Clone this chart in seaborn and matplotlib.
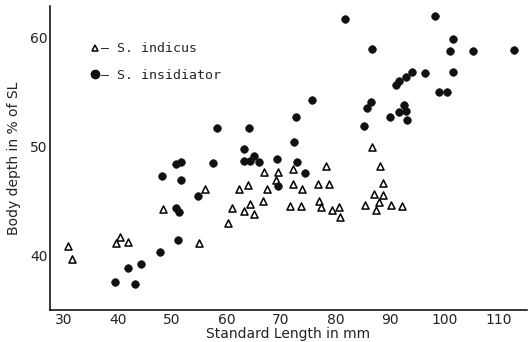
import matplotlib
matplotlib.use("Agg")
import matplotlib.pyplot as plt
import seaborn as sns
import pandas as pd
from matplotlib.lines import Line2D
from matplotlib.ticker import MultipleLocator

# S. indicus (open triangles)
indicus_sl = [30.9, 31.7, 39.7, 40.5, 41.9, 48.3, 55.0, 56.1, 60.3, 61.0, 62.3,
              63.9, 63.2, 64.3, 65.0, 66.7, 66.9, 69.4, 67.4, 69.1, 72.2, 72.2,
              73.9, 71.7, 73.7, 76.8, 78.8, 78.3, 77.0, 77.3, 79.4, 80.6, 80.8,
              86.7, 88.2, 88.7, 87.1, 88.7, 88.0, 85.4, 87.4, 90.2, 92.2]
indicus_bd = [40.9, 39.7, 41.2, 41.7, 41.3, 44.3, 41.2, 46.1, 43.0, 44.4, 46.1,
              46.5, 44.1, 44.8, 43.8, 45.0, 47.7, 47.7, 46.1, 47.0, 48.0, 46.6,
              46.1, 44.6, 44.6, 46.6, 46.6, 48.2, 45.0, 44.5, 44.2, 44.5, 43.6,
              50.0, 48.2, 46.7, 45.7, 45.6, 44.9, 44.7, 44.2, 44.7, 44.6]

# S. insidiator (filled circles)
insidiator_sl = [39.5, 41.9, 43.2, 44.3, 47.8, 48.2, 51.1, 50.7, 51.3, 51.7, 54.8,
                 50.7, 51.7, 57.5, 58.3, 64.1, 63.2, 63.2, 64.3, 65.0, 66.0, 69.3,
                 69.4, 72.8, 72.4, 72.9, 74.4, 75.7, 81.7, 86.7, 85.2, 85.8, 86.5,
                 90.0, 91.7, 92.6, 92.9, 93.1, 91.1, 91.7, 92.9, 94.0, 96.4, 98.3,
                 101.6, 101.0, 105.2, 112.9, 101.6, 99.0, 100.6]
insidiator_bd = [37.6, 38.9, 37.4, 39.3, 40.4, 47.3, 41.5, 44.4, 44.0, 47.0, 45.5,
                 48.4, 48.6, 48.5, 51.7, 51.7, 49.8, 48.7, 48.7, 49.2, 48.6, 48.9,
                 46.4, 52.7, 50.4, 48.6, 47.6, 54.3, 61.7, 59.0, 51.9, 53.6, 54.1,
                 52.7, 53.2, 53.8, 53.3, 52.5, 55.7, 56.0, 56.4, 56.9, 56.8, 62.0,
                 59.9, 58.8, 58.8, 58.9, 56.9, 55.0, 55.0]

df = pd.DataFrame({
    "sl": indicus_sl + insidiator_sl,
    "bd": indicus_bd + insidiator_bd,
    "species": ["S. indicus"] * len(indicus_sl) + ["S. insidiator"] * len(insidiator_sl),
})

sns.set_style("white")
plt.rcParams['font.family'] = ['DejaVu Sans']

fig = plt.figure(figsize=(5.28, 3.42), dpi=100)
ax = fig.add_axes([0.095, 0.094, 0.903, 0.888])

ind = df[df.species == "S. indicus"]
ins = df[df.species == "S. insidiator"]
sns.scatterplot(data=ind, x="sl", y="bd", marker="^", s=26, facecolor="white",
                edgecolor="black", linewidth=1.1, ax=ax, legend=False)
sns.scatterplot(data=ins, x="sl", y="bd", marker="o", s=30, color="#111111",
                edgecolor="#111111", linewidth=0.5, ax=ax, legend=False)

ax.set_xlim(27.6, 115.2)
ax.set_ylim(35.05, 62.9)
ax.set_xticks([30, 40, 50, 60, 70, 80, 90, 100, 110])
ax.set_yticks([40, 50, 60])
ax.yaxis.set_minor_locator(MultipleLocator(5))
ax.tick_params(axis="both", which="both", direction="in", length=5, width=1,
               labelsize=10, color="black", labelcolor="#222222", pad=2)
ax.tick_params(axis="y", which="minor", length=5)

for side in ["top", "right"]:
    ax.spines[side].set_visible(False)
for side in ["left", "bottom"]:
    ax.spines[side].set_color("black")
    ax.spines[side].set_linewidth(1.1)

ax.set_xlabel("Standard Length in mm", fontsize=10, color="#222222", labelpad=0)
ax.set_ylabel("Body depth in % of SL", fontsize=10, color="#222222", labelpad=6)

handles = [
    Line2D([], [], marker="^", linestyle="none", markersize=5, markerfacecolor="white",
           markeredgecolor="black", markeredgewidth=1.1),
    Line2D([], [], marker="o", linestyle="none", markersize=6, color="#111111"),
]
ax.legend(handles, ["— S. indicus", "— S. insidiator"], loc="upper left",
          bbox_to_anchor=(0.055, 0.92), frameon=False, handletextpad=0.0,
          handlelength=1.0, labelspacing=1.0,
          prop={"family": "DejaVu Sans Mono", "size": 9.5})

fig.savefig("out.png", dpi=100)
